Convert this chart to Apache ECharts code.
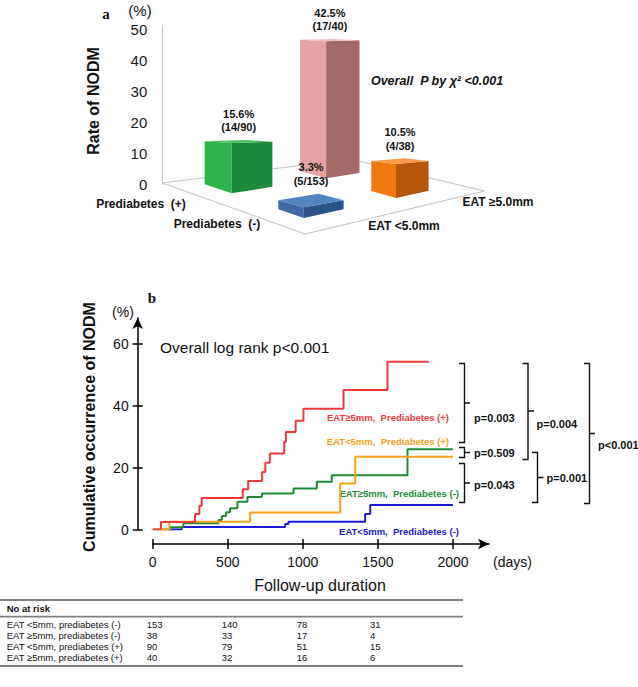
<!DOCTYPE html>
<html><head><meta charset="utf-8">
<script src="https://cdn.jsdelivr.net/npm/echarts@6/dist/echarts.min.js"></script>
<style>html,body{margin:0;padding:0;background:#fff}#c{width:638px;height:687px}</style>
</head><body><div id="c"></div>
<script>
// ---------------- Panel a data ----------------
const barRows = [0, 0, 1, 1];            // 0 = Prediabetes (+), 1 = Prediabetes (-)
const barCols = [1, 0, 1, 0];            // 0 = EAT <5.0mm, 1 = EAT >=5.0mm
const barRates = [42.5, 15.6, 10.5, 3.3];
const barRateText = ['42.5%', '15.6%', '10.5%', '3.3%'];
const barCountText = ['(17/40)', '(14/90)', '(4/38)', '(5/153)'];
const rowNames = ['Prediabetes  (+)', 'Prediabetes  (-)'];
const colNames = ['EAT <5.0mm', 'EAT \u22655.0mm'];
const rateTicks = [0, 10, 20, 30, 40, 50];

// ---------------- Panel b data ----------------
const kmRed = [[0,0],[55,2.4],[282,5.0],[311,7.7],[326,10.2],[600,13.0],[636,15.7],[729,18.6],[750,21.6],[780,24.6],[876,28.3],[887,31.6],[952,35.2],[1004,39.1],[1271,45.2],[1564,54.3],[1838,54.3]];
const kmOrange = [[0,0],[111,2.5],[649,5.5],[1249,14.9],[1349,23.6],[2000,23.6]];
const kmGreen = [[60,0],[115,0.7],[204,2.0],[438,3.1],[460,4.4],[489,5.6],[515,6.9],[564,9.0],[631,10.5],[727,11.7],[938,13.3],[1093,15.5],[1193,17.6],[1697,26.0],[2000,26.0]];
const kmBlue = [[100,0],[193,0.8],[882,1.8],[904,2.5],[1415,5.0],[1449,7.9],[2000,7.9]];
const kmNames = ['EAT\u22655mm,  Prediabetes (+)', 'EAT<5mm,  Prediabetes (+)', 'EAT\u22655mm,  Prediabetes (-)', 'EAT<5mm,  Prediabetes (-)'];
const dayTicks = [0, 500, 1000, 1500, 2000];
const pctTicks = [0, 20, 40, 60];
const pValues = ['p=0.003', 'p=0.509', 'p=0.043', 'p=0.004', 'p=0.001', 'p<0.001'];

// ---------------- Risk table data ----------------
const riskGroups = ['EAT <5mm, prediabetes (-)', 'EAT \u22655mm, prediabetes (-)', 'EAT <5mm, prediabetes (+)', 'EAT \u22655mm, prediabetes (+)'];
const riskAt0 = [153, 38, 90, 40];
const riskAt500 = [140, 33, 79, 32];
const riskAt1000 = [78, 17, 51, 16];
const riskAt1500 = [31, 4, 15, 6];

// ---------------- styles / layout ----------------
const FONT = 'Liberation Sans, Arial, sans-serif';
const BAR_COLORS = [
  [ {left:'#2fb34b', right:'#1b8a3b', top:'#47c262'}, {left:'#e7a3a3', right:'#a46a6a', top:'#f1bebe'} ],
  [ {left:'#3d6aa6', right:'#2c5389', top:'#5283c2'}, {left:'#f0790f', right:'#b5570b', top:'#f69c4a'} ]
];
const KM_COLORS = {red:'#f03a3a', orange:'#f8a11d', green:'#1f8b37', blue:'#1b1bd8'};
const FLOOR = {BL:[0,-1.3], BR:[188,-25.3], F:[143,49.7], FR:[322,6.7]};
const ROW_S = [[0.10,0.29],[0.62,0.80]];
const COL_T = [[0.15,0.37],[0.66,0.84]];

function floorPt(o, s, t) {
  const {BL, BR, F, FR} = FLOOR;
  const w = [(1-s)*(1-t), (1-s)*t, s*(1-t), s*t];
  return [o[0] + w[0]*BL[0] + w[1]*BR[0] + w[2]*F[0] + w[3]*FR[0],
          o[1] + w[0]*BL[1] + w[1]*BR[1] + w[2]*F[1] + w[3]*FR[1]];
}

function renderBar(params, api) {
  const row = api.value(0), col = api.value(1), v = api.value(2);
  const o = api.coord([0, 0]);
  const h = (o[1] - api.coord([0, v])[1]) * 1.04;
  const [s0, s1] = ROW_S[row], [t0, t1] = COL_T[col];
  const Lb = floorPt(o, s0, t0), Fb = floorPt(o, s1, t0), Rb = floorPt(o, s1, t1), Bb = floorPt(o, s0, t1);
  const f = Math.max(0.2, 1 - h / 60);
  const Ft = [Fb[0], Fb[1] - h];
  const lift = p => [Ft[0] + p[0] - Fb[0], Ft[1] + f * (p[1] - Fb[1])];
  const Lt = lift(Lb), Rt = lift(Rb), Bt = lift(Bb);
  const c = BAR_COLORS[row][col];
  const cx = (Lt[0] + Ft[0] + Rt[0] + Bt[0]) / 4;
  const i = params.dataIndex;
  return {type:'group', children:[
    {type:'polygon', shape:{points:[Lb,Fb,Ft,Lt]}, style:{fill:c.left}},
    {type:'polygon', shape:{points:[Fb,Rb,Rt,Ft]}, style:{fill:c.right}},
    {type:'polygon', shape:{points:[Lt,Ft,Rt,Bt]}, style:{fill:c.top}},
    {type:'text', x:cx, y:Bt[1]-6, style:{text: barRateText[i] + '\n' + barCountText[i],
      fontSize:11, fontWeight:'bold', fontFamily:FONT, fill:'#111', lineHeight:13.5,
      textAlign:'center', textVerticalAlign:'bottom', align:'center', verticalAlign:'bottom'}}
  ]};
}

const chart = echarts.init(document.getElementById('c'), null, {renderer:'svg', width:638, height:687});

function txt(x, y, text, opt) {
  return Object.assign({type:'text', x, y, silent:true, style:Object.assign({
    text, fontSize:12, fontFamily:FONT, fill:'#111',
    textAlign:'left', textVerticalAlign:'middle', align:'left', verticalAlign:'middle'}, opt || {})});
}
function rtxt(x, y, text, opt, rot) {
  const t = txt(x, y, text, opt); t.rotation = rot; return t;
}
const plain = v => String(v);

const option = {
  animation:false,
  backgroundColor:'#fff',
  grid:[
    {left:162.3, top:25.3, width:300, height:159},
    {left:152.7, top:318, right:149, bottom:157.5}
  ],
  xAxis:[
    {gridIndex:0, type:'value', min:0, max:1, show:false},
    {gridIndex:1, type:'value', min:0, max:2240, position:'bottom', offset:14.5,
      axisLine:{show:true, onZero:false, lineStyle:{color:'#000', width:1.5}, symbol:['none','arrow'], symbolSize:[8,11]},
      axisTick:{show:true, inside:false, length:5, customValues:dayTicks, lineStyle:{color:'#000', width:1.5}},
      axisLabel:{customValues:dayTicks, formatter:plain, fontSize:14, fontFamily:FONT, color:'#111', margin:11},
      splitLine:{show:false}},
    {gridIndex:1, type:'value', min:0, max:2240, position:'bottom', offset:14.5,
      axisLine:{show:false, onZero:false},
      axisTick:{show:true, inside:true, length:5, customValues:dayTicks, lineStyle:{color:'#000', width:1.5}},
      axisLabel:{show:false}, splitLine:{show:false}}
  ],
  yAxis:[
    {gridIndex:0, type:'value', min:0, max:51.3, position:'left',
      axisLine:{show:true, onZero:false, lineStyle:{color:'#c4c4c4', width:1}},
      axisTick:{show:false},
      axisLabel:{customValues:rateTicks, formatter:plain, fontSize:15, fontFamily:FONT, color:'#1a1a1a', margin:15},
      splitLine:{show:false}},
    {gridIndex:1, type:'value', min:0, max:68.5, position:'left', offset:15,
      axisLine:{show:true, onZero:false, lineStyle:{color:'#000', width:1.5}, symbol:['none','arrow'], symbolSize:[8,11]},
      axisTick:{show:true, inside:false, length:5, customValues:pctTicks, lineStyle:{color:'#000', width:1.5}},
      axisLabel:{customValues:pctTicks, formatter:plain, fontSize:14, fontFamily:FONT, color:'#111', margin:9},
      splitLine:{show:false}},
    {gridIndex:1, type:'value', min:0, max:68.5, position:'left', offset:15,
      axisLine:{show:false, onZero:false},
      axisTick:{show:true, inside:true, length:5, customValues:pctTicks, lineStyle:{color:'#000', width:1.5}},
      axisLabel:{show:false}, splitLine:{show:false}}
  ],
  series:[
    {type:'custom', xAxisIndex:0, yAxisIndex:0, renderItem:renderBar, z:5,
      encode:{x:0, y:2},
      data: barRates.map((v, i) => [barRows[i], barCols[i], v])},
    {type:'line', name:kmNames[3], xAxisIndex:1, yAxisIndex:1, step:'end', symbol:'none', data:kmBlue,
      lineStyle:{color:KM_COLORS.blue, width:2}, itemStyle:{color:KM_COLORS.blue}},
    {type:'line', name:kmNames[2], xAxisIndex:1, yAxisIndex:1, step:'end', symbol:'none', data:kmGreen,
      lineStyle:{color:KM_COLORS.green, width:2}, itemStyle:{color:KM_COLORS.green}},
    {type:'line', name:kmNames[1], xAxisIndex:1, yAxisIndex:1, step:'end', symbol:'none', data:kmOrange,
      lineStyle:{color:KM_COLORS.orange, width:2}, itemStyle:{color:KM_COLORS.orange}},
    {type:'line', name:kmNames[0], xAxisIndex:1, yAxisIndex:1, step:'end', symbol:'none', data:kmRed,
      lineStyle:{color:KM_COLORS.red, width:2}, itemStyle:{color:KM_COLORS.red}}
  ]
};
chart.setOption(option);

// ---------- decorations ----------
const o = chart.convertToPixel({xAxisIndex:0, yAxisIndex:0}, [0, 0]);
const floor = [floorPt(o,0,0), floorPt(o,0,1), floorPt(o,1,1), floorPt(o,1,0)];
const g = [];
g.push({type:'polygon', shape:{points:floor}, style:{fill:'none', stroke:'#c4c4c4', lineWidth:1}, z:1, silent:true});

// panel a texts
g.push(txt(106, 14, 'a', {fontFamily:'Liberation Serif, Times New Roman, serif', fontWeight:'bold', fontSize:15, textAlign:'center', align:'center'}));
g.push(txt(140, 10, '(%)', {fontSize:15, textAlign:'center', align:'center'}));
g.push(rtxt(93, 101, 'Rate of NODM', {fontSize:16, fontWeight:'bold', textAlign:'center', align:'center'}, Math.PI/2));
g.push(txt(437, 81, 'Overall  P by \u03c7\u00b2 <0.001', {fontSize:12.5, fontWeight:'bold', fontStyle:'italic', textAlign:'center', align:'center'}));
g.push(txt(141, 204, rowNames[0], {fontSize:12, fontWeight:'bold', textAlign:'center', align:'center'}));
g.push(txt(217, 224, rowNames[1], {fontSize:12, fontWeight:'bold', textAlign:'center', align:'center'}));
g.push(txt(404, 226, colNames[0], {fontSize:12, fontWeight:'bold', textAlign:'center', align:'center'}));
g.push(txt(498, 202, colNames[1], {fontSize:12, fontWeight:'bold', textAlign:'center', align:'center'}));

// panel b texts
g.push(txt(152, 298, 'b', {fontFamily:'Liberation Serif, Times New Roman, serif', fontWeight:'bold', fontSize:15, textAlign:'center', align:'center'}));
g.push(txt(123, 312, '(%)', {fontSize:14, textAlign:'center', align:'center'}));
g.push(rtxt(89, 427, 'Cumulative occurrence of NODM', {fontSize:16, fontWeight:'bold', textAlign:'center', align:'center'}, Math.PI/2));
g.push(txt(160, 347, 'Overall log rank p<0.001', {fontSize:15.5}));
g.push(txt(493, 562, '(days)', {fontSize:14}));
g.push(txt(320, 585, 'Follow-up duration', {fontSize:16, textAlign:'center', align:'center'}));

const kmLab = {fontSize:9.5, fontWeight:'bold', textAlign:'right', align:'right'};
g.push(txt(449, 417, kmNames[0], Object.assign({fill:KM_COLORS.red}, kmLab)));
g.push(txt(449, 441, kmNames[1], Object.assign({fill:KM_COLORS.orange}, kmLab)));
g.push(txt(459, 493, kmNames[2], Object.assign({fill:KM_COLORS.green}, kmLab)));
g.push(txt(459, 531, kmNames[3], Object.assign({fill:KM_COLORS.blue}, kmLab)));

// braces
function brace(hx, sx, tx, y0, y1, ym) {
  return {type:'polyline', silent:true,
    shape:{points:[[hx,y0],[sx,y0],[sx,ym],[tx,ym],[sx,ym],[sx,y1],[hx,y1]]},
    style:{stroke:'#111', lineWidth:1.4, fill:'none'}};
}
g.push(brace(459, 464.5, 470, 363.5, 442.5, 403));
g.push(brace(459, 464.5, 470, 447.5, 457.5, 452.5));
g.push(brace(459, 464.5, 470, 463.5, 502.5, 483));
g.push(brace(522.5, 528, 534, 363.5, 459.5, 411));
g.push(brace(532, 537.5, 543.5, 452.5, 502.5, 477.5));
g.push(brace(584, 589.5, 595, 363.5, 503.5, 433.5));
const pLab = {fontSize:11, fontWeight:'bold'};
g.push(txt(474, 418, pValues[0], pLab));
g.push(txt(474, 452.5, pValues[1], pLab));
g.push(txt(474, 485, pValues[2], pLab));
g.push(txt(536.5, 424, pValues[3], pLab));
g.push(txt(546.5, 477.5, pValues[4], pLab));
g.push(txt(598, 445, pValues[5], pLab));

// risk table
const lineStyle = {stroke:'#808080', lineWidth:1.8};
[600, 616.7, 666].forEach(y => g.push({type:'line', silent:true, shape:{x1:0, y1:y, x2:463, y2:y}, style:lineStyle}));
g.push(txt(6.7, 608.5, 'No at risk', {fontSize:9.5, fontWeight:'bold'}));
const rowY = [624.3, 635.7, 646.7, 657.7];
const colX = [146.7, 221.7, 296.7, 370];
const cols = [riskAt0, riskAt500, riskAt1000, riskAt1500];
riskGroups.forEach((name, r) => {
  g.push(txt(6.7, rowY[r], name, {fontSize:9.5}));
  cols.forEach((arr, c) => g.push(txt(colX[c], rowY[r], String(arr[r]), {fontSize:9.5})));
});

chart.setOption({graphic: g});
</script></body></html>
